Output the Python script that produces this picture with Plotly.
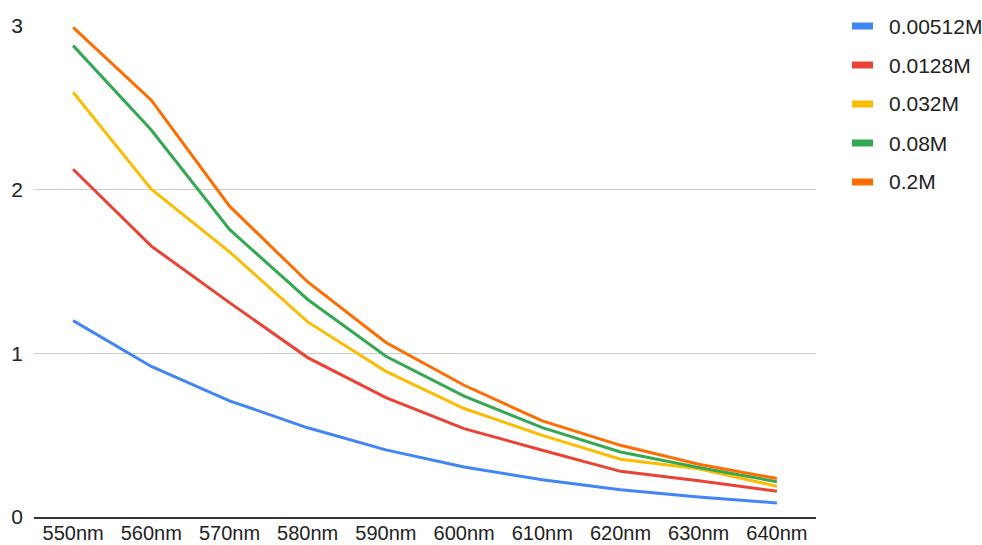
import plotly.graph_objects as go

# Wavelength categories and absorbance per concentration
wavelengths = ["550nm", "560nm", "570nm", "580nm", "590nm",
               "600nm", "610nm", "620nm", "630nm", "640nm"]

conc_0_00512 = [1.20, 0.92, 0.71, 0.545, 0.41, 0.305, 0.228, 0.167, 0.122, 0.086]
conc_0_0128 = [2.125, 1.655, 1.31, 0.974, 0.73, 0.54, 0.408, 0.279, 0.222, 0.157]
conc_0_032 = [2.595, 2.003, 1.62, 1.192, 0.89, 0.663, 0.499, 0.353, 0.295, 0.188]
conc_0_08 = [2.88, 2.364, 1.757, 1.329, 0.982, 0.738, 0.546, 0.397, 0.302, 0.216]
conc_0_2 = [2.992, 2.547, 1.899, 1.436, 1.066, 0.805, 0.587, 0.438, 0.322, 0.235]

series_names = ["0.00512M", "0.0128M", "0.032M", "0.08M", "0.2M"]
series_values = [conc_0_00512, conc_0_0128, conc_0_032, conc_0_08, conc_0_2]
series_colors = ["#4285F4", "#EA4335", "#FBBC04", "#34A853", "#FF6D01"]

y_ticks = [0, 1, 2, 3]

FONT = "Arial, Liberation Sans, sans-serif"
W, H = 982, 545
ML, MR, MT, MB = 34, 166, 26, 28

fig = go.Figure()
for name, vals, col in zip(series_names, series_values, series_colors):
    fig.add_trace(go.Scatter(
        x=wavelengths, y=vals, name=name, mode="lines",
        line=dict(color=col, width=3),
        showlegend=False,
    ))

# Legend drawn as colour bars and labels to the right of the plot
plot_w = W - ML - MR
plot_h = H - MT - MB
legend_rows = [26, 65, 104, 143, 182]
for name, col, py in zip(series_names, series_colors, legend_rows):
    yp = 1 - (py - MT) / plot_h
    x0 = (852 - ML) / plot_w
    x1 = (873 - ML) / plot_w
    dy = 3.5 / plot_h
    fig.add_shape(type="rect", xref="paper", yref="paper",
                  x0=x0, x1=x1, y0=yp - dy, y1=yp + dy,
                  fillcolor=col, line=dict(width=0), layer="above")
    fig.add_annotation(xref="paper", yref="paper",
                       x=(887 - ML) / plot_w, y=yp,
                       xanchor="left", yanchor="middle",
                       text=name, showarrow=False,
                       font=dict(family=FONT, size=21, color="#222222"))

fig.update_layout(
    width=W, height=H,
    margin=dict(l=ML, r=MR, t=MT, b=MB, pad=0, autoexpand=False),
    paper_bgcolor="white", plot_bgcolor="white",
    font=dict(family=FONT, size=21, color="#222222"),
    showlegend=False,
)
fig.update_xaxes(
    type="category", range=[-0.5, len(wavelengths) - 0.5],
    automargin=False,
    showgrid=False, showline=True, linecolor="#333333", linewidth=1.5,
    ticks="", ticklabelstandoff=-3,
    tickfont=dict(family=FONT, size=20, color="#222222"),
)
fig.update_yaxes(
    range=[0, 3], tickvals=y_ticks, ticktext=[str(v) for v in y_ticks],
    automargin=False,
    showgrid=True, gridcolor="#cccccc", gridwidth=1,
    zeroline=False, showline=False, ticks="",
    ticklabelstandoff=10,
    tickfont=dict(family=FONT, size=21, color="#222222"),
)

fig.write_html("out.html")
